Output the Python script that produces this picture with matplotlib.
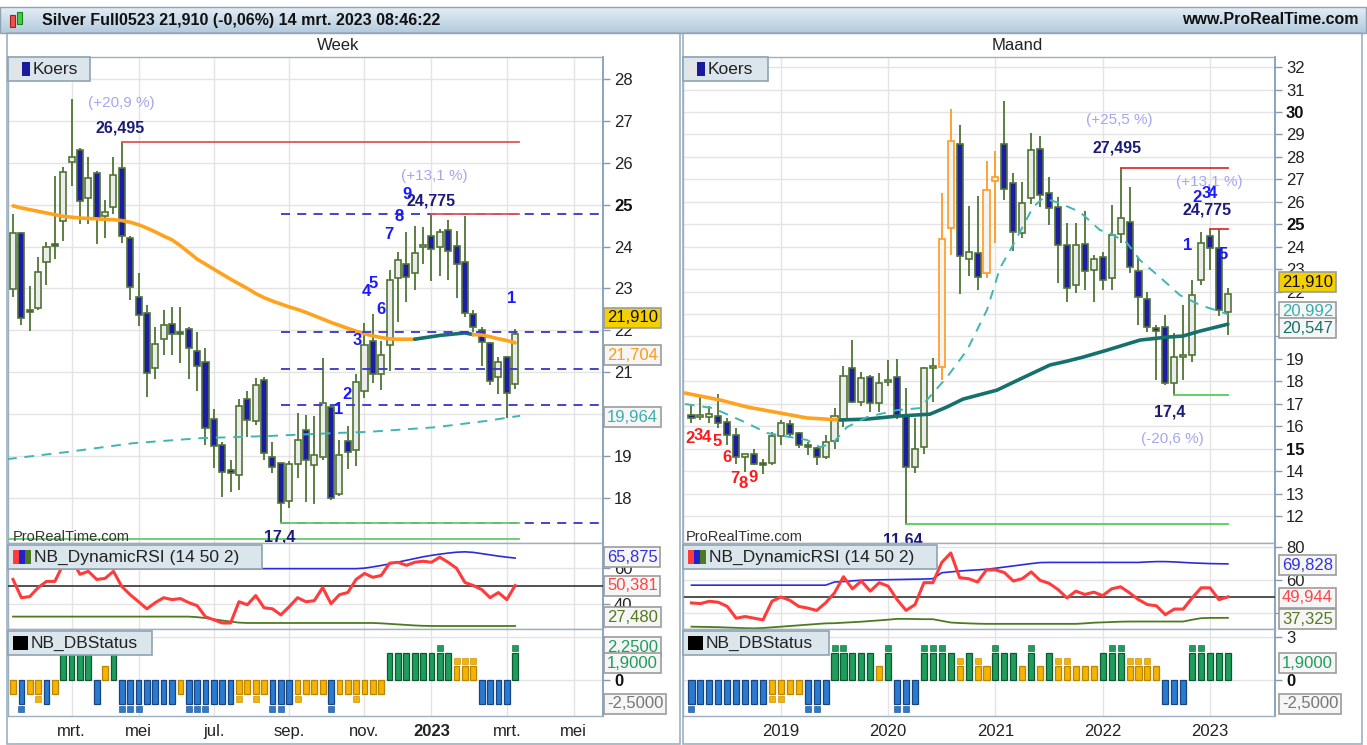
import numpy as np
import pandas as pd
import matplotlib
matplotlib.use("Agg")
import matplotlib.pyplot as plt
from matplotlib.patches import Rectangle
from matplotlib.colors import LinearSegmentedColormap

plt.rcParams['font.family'] = ['Liberation Sans', 'DejaVu Sans']

W, H = 1367, 745

# ======================= DATA =======================
# ---- weekly candles (first week 17 Jan 2022) ----
w_first = "2022-01-17"
w_open = [22.99, 24.32, 22.47, 22.53, 23.63, 24.06, 24.61, 26.02, 26.31, 25.16, 25.76, 24.73, 24.95, 25.88, 24.21, 22.80, 22.42, 21.10, 21.79, 22.15, 21.95, 22.03, 21.51, 21.25, 19.89, 19.26, 18.67, 18.55, 20.36, 19.84, 20.82, 18.98, 18.84, 17.93, 18.81, 19.62, 18.79, 18.98, 20.17, 18.10, 19.36, 19.15, 20.55, 21.75, 20.96, 21.65, 23.25, 23.58, 23.37, 24.00, 24.25, 23.99, 24.40, 24.01, 23.63, 22.39, 22.01, 21.70, 20.89, 21.37, 20.72]
w_high = [24.78, 24.35, 23.06, 23.75, 24.11, 25.68, 25.90, 27.52, 26.35, 26.14, 25.80, 25.11, 26.14, 26.495, 24.25, 23.37, 22.60, 22.08, 22.49, 22.56, 22.56, 22.08, 21.96, 21.58, 20.12, 19.34, 18.91, 20.36, 20.55, 20.86, 20.89, 19.34, 18.84, 18.88, 20.03, 19.98, 19.96, 21.34, 20.20, 19.38, 19.72, 20.96, 22.18, 22.39, 21.75, 23.44, 23.87, 24.35, 24.49, 24.47, 24.775, 24.42, 24.63, 24.37, 24.72, 22.49, 22.08, 21.72, 21.37, 21.39, 22.03]
w_low = [22.80, 22.13, 21.99, 22.49, 23.08, 23.70, 24.13, 25.45, 24.54, 24.54, 24.06, 24.21, 24.78, 24.09, 22.73, 22.10, 20.41, 20.84, 21.41, 21.41, 21.22, 20.84, 20.55, 19.26, 18.72, 18.02, 18.14, 18.19, 19.46, 19.74, 18.91, 18.60, 17.40, 17.76, 18.48, 17.90, 17.86, 18.90, 17.95, 18.05, 18.69, 18.76, 20.39, 20.74, 20.58, 21.03, 22.20, 22.68, 22.96, 23.58, 23.18, 23.30, 23.20, 22.77, 22.32, 21.96, 21.15, 20.70, 20.48, 19.91, 20.60]
w_close = [24.32, 22.30, 22.44, 23.39, 23.99, 24.01, 25.78, 26.14, 25.09, 25.64, 24.66, 24.83, 25.71, 24.25, 23.04, 22.37, 20.98, 21.68, 22.13, 21.91, 21.92, 21.58, 21.15, 19.67, 19.24, 18.62, 18.60, 20.20, 19.86, 20.70, 19.07, 18.74, 17.88, 18.81, 19.38, 18.91, 19.03, 20.27, 18.00, 19.03, 19.10, 20.77, 21.65, 20.96, 21.41, 23.20, 23.68, 23.27, 23.85, 24.03, 23.94, 24.35, 23.89, 23.58, 22.42, 22.08, 21.72, 20.79, 21.25, 20.51, 21.91]
w_ma = [24.97, 24.92, 24.88, 24.84, 24.80, 24.76, 24.72, 24.70, 24.68, 24.67, 24.66, 24.65, 24.64, 24.62, 24.58, 24.52, 24.44, 24.35, 24.25, 24.16, 24.02, 23.86, 23.70, 23.58, 23.46, 23.34, 23.22, 23.11, 23.00, 22.88, 22.78, 22.70, 22.63, 22.56, 22.50, 22.43, 22.35, 22.27, 22.19, 22.12, 22.05, 21.98, 21.92, 21.87, 21.83, 21.80, 21.79, 21.79, 21.79, 21.82, 21.85, 21.88, 21.90, 21.92, 21.94, 21.90, 21.89, 21.85, 21.80, 21.76, 21.704]
w_ma_rise = (48, 55)
w_ma2_idx = [-0.72, 6.45, 14.34, 22.35, 30.36, 38.25, 42.43, 50.44, 56.53, 60.6]
w_ma2 = [18.93, 19.10, 19.31, 19.43, 19.48, 19.55, 19.58, 19.69, 19.84, 19.964]
w_fib = [24.775, 21.958, 21.0875, 20.217, 17.4]
w_rsi = [53.8, 43.5, 44.1, 49.2, 52.7, 52.7, 62.4, 65.2, 56.7, 58.4, 53.8, 54.4, 58.4, 49.8, 45.2, 41.2, 37.2, 40.7, 43.5, 42.4, 43.0, 40.7, 39.0, 32.7, 31.0, 29.2, 29.2, 41.2, 39.5, 44.7, 37.8, 37.2, 33.8, 38.4, 43.5, 41.2, 41.8, 49.2, 40.1, 45.2, 46.4, 53.8, 57.2, 55.0, 56.1, 63.0, 63.5, 61.8, 63.5, 64.1, 63.5, 66.4, 63.5, 60.1, 52.1, 50.4, 48.1, 43.5, 46.4, 42.4, 50.381]
w_rsi_up = [59.9, 59.9, 59.9, 59.9, 59.9, 59.9, 59.9, 59.9, 59.9, 59.9, 59.9, 59.9, 59.9, 59.9, 59.9, 59.9, 59.9, 59.9, 59.9, 59.9, 59.9, 59.9, 59.9, 59.9, 59.9, 59.9, 59.9, 59.9, 59.9, 59.9, 59.9, 59.9, 59.9, 59.9, 59.9, 59.9, 59.9, 59.9, 59.9, 59.9, 59.9, 59.9, 60.2, 60.9, 61.7, 62.6, 63.6, 64.6, 65.6, 66.6, 67.4, 68.1, 68.7, 69.2, 69.4, 69.1, 68.4, 67.7, 67.0, 66.4, 65.875]
w_rsi_lo = [32.8, 32.8, 32.8, 32.8, 32.8, 32.8, 32.8, 32.8, 32.8, 32.8, 32.8, 32.8, 32.8, 32.8, 32.8, 32.8, 32.8, 32.8, 32.8, 32.8, 32.8, 32.8, 32.5, 32.0, 31.3, 30.6, 30.0, 29.4, 29.2, 29.2, 29.2, 29.2, 29.2, 29.2, 29.2, 29.2, 29.2, 29.2, 29.2, 29.2, 29.2, 29.2, 29.2, 29.2, 29.0, 28.7, 28.4, 28.1, 27.8, 27.6, 27.5, 27.5, 27.5, 27.5, 27.5, 27.5, 27.5, 27.5, 27.5, 27.5, 27.48]
w_db = ["Y-", "Bd", "Y-", "Ym-", "B", "Y-", "G", "G", "G", "G", "B", "Y+", "G", "Bd", "Bd", "Bd", "B", "B", "B", "B", "Y-", "Bd", "Bd", "Bd", "B", "B", "B", "Ym-", "Y-", "Ym-", "Y-", "Bd", "Bd", "B", "Ym-", "Y-", "Y-", "Y-", "Bd", "Y-", "Y-", "Ym-", "Y-", "Y-", "Y-", "G", "G", "G", "G", "G", "G", "Gd", "G", "Ym+", "Ym+", "Ym+", "B", "B", "B", "B", "Gd"]

# ---- monthly candles (first month March 2018) ----
m_first = "2018-03-01"
m_open = [16.50, 16.40, 16.42, 16.47, 16.20, 15.61, 14.64, 14.76, 14.30, 14.36, 15.56, 16.10, 15.68, 15.16, 15.01, 14.61, 15.35, 16.31, 18.58, 17.09, 18.18, 17.04, 17.96, 18.18, 16.50, 14.17, 15.09, 18.58, 18.65, 24.82, 28.56, 23.44, 23.73, 22.81, 26.94, 28.57, 26.85, 24.62, 26.15, 28.33, 26.37, 25.78, 24.07, 22.29, 24.12, 22.96, 23.52, 22.59, 24.56, 25.11, 22.93, 21.65, 20.36, 20.43, 17.91, 19.07, 19.17, 22.51, 24.47, 23.92, 21.10]
m_high = [16.94, 17.39, 16.90, 17.43, 16.37, 15.92, 14.76, 15.00, 14.53, 15.76, 16.28, 16.28, 15.75, 15.31, 15.09, 15.61, 16.80, 18.68, 19.84, 18.43, 18.28, 18.36, 18.95, 18.98, 17.69, 16.35, 18.65, 19.02, 26.40, 30.12, 29.42, 25.82, 26.27, 27.81, 28.26, 30.50, 27.29, 26.89, 29.07, 28.93, 27.11, 26.22, 25.06, 25.04, 25.60, 23.63, 23.77, 25.85, 27.495, 26.67, 23.48, 22.00, 20.50, 20.96, 20.14, 21.40, 22.51, 24.66, 24.775, 24.775, 22.14]
m_low = [16.13, 16.28, 16.16, 15.92, 15.16, 14.32, 13.97, 14.27, 13.87, 14.27, 15.16, 15.51, 15.01, 14.72, 14.27, 14.53, 14.97, 15.98, 17.02, 16.90, 16.65, 16.65, 17.79, 16.31, 11.64, 13.93, 14.76, 17.09, 18.06, 23.63, 21.88, 22.69, 22.07, 22.60, 24.15, 26.08, 23.82, 24.37, 25.90, 25.75, 24.96, 22.39, 21.55, 21.92, 22.07, 21.55, 22.07, 22.07, 24.15, 22.81, 20.51, 20.21, 18.06, 17.83, 17.40, 18.06, 18.87, 22.29, 22.96, 20.90, 20.06]
m_close = [16.35, 16.50, 16.54, 16.13, 15.61, 14.61, 14.76, 14.32, 14.27, 15.56, 16.13, 15.65, 15.16, 15.09, 14.61, 15.31, 16.45, 18.24, 17.09, 18.13, 17.02, 17.94, 18.06, 16.45, 14.17, 14.99, 18.58, 18.70, 24.33, 28.72, 23.58, 23.78, 22.66, 26.52, 27.09, 26.55, 24.66, 25.96, 28.30, 26.30, 25.71, 24.07, 22.14, 24.07, 22.93, 23.45, 22.51, 24.52, 25.26, 23.10, 21.77, 20.43, 20.25, 17.94, 19.10, 19.17, 21.84, 24.17, 23.95, 21.18, 21.91]
m_highlight = [28, 29, 33, 34]
m_ma_idx = [-0.73, 3.19, 6.21, 9.90, 12.92, 16.61, 19.63, 22.99, 26.68, 28.58, 30.37, 34.17, 36.74, 40.10, 42.00, 43.79, 46.48, 50.17, 53.19, 54.98, 56.88, 60.0]
m_ma = [17.48, 17.17, 16.86, 16.59, 16.37, 16.28, 16.32, 16.45, 16.54, 16.86, 17.21, 17.61, 18.10, 18.73, 18.90, 19.08, 19.39, 19.84, 19.97, 20.02, 20.24, 20.547]
m_ma_turn = 5
m_ma2_idx = [-0.73, 2.40, 6.21, 8.45, 11.02, 12.92, 14.37, 15.83, 17.39, 19.63, 22.99, 25.56, 27.01, 28.58, 30.82, 33.05, 34.51, 35.96, 38.20, 39.32, 41.22, 43.46, 45.69, 46.81, 48.72, 50.17, 52.40, 54.64, 56.88, 60.0]
m_ma2 = [16.99, 16.81, 16.14, 15.70, 15.52, 15.39, 15.07, 15.25, 15.96, 16.41, 16.72, 16.81, 17.48, 18.19, 19.39, 21.18, 23.05, 24.07, 25.76, 26.16, 25.94, 25.54, 24.74, 24.61, 24.16, 23.40, 22.64, 21.84, 21.40, 20.992]
m_rsi = [46.3, 45.9, 47.3, 46.7, 44.2, 37.1, 38.1, 37.1, 36.1, 47.3, 49.9, 47.9, 44.2, 43.2, 41.8, 46.3, 52.4, 62.1, 54.8, 59.5, 53.4, 58.5, 56.4, 48.3, 41.8, 45.3, 58.5, 58.5, 70.7, 76.4, 61.5, 60.9, 58.9, 66.2, 66.2, 64.6, 59.5, 60.9, 65.0, 59.9, 58.1, 54.4, 49.3, 53.4, 51.4, 52.8, 50.7, 54.8, 56.0, 52.4, 48.3, 45.3, 44.6, 39.2, 42.6, 42.6, 49.3, 55.4, 55.4, 48.3, 49.944]
m_rsi_up = [57.0, 57.0, 57.0, 57.0, 57.0, 57.0, 57.0, 57.0, 57.0, 57.0, 57.0, 57.0, 57.0, 57.0, 57.0, 57.0, 58.9, 59.2, 59.6, 60.0, 60.1, 60.2, 60.3, 60.4, 60.5, 60.6, 60.7, 60.9, 64.5, 65.0, 65.5, 65.9, 66.2, 66.6, 67.2, 67.9, 68.6, 69.3, 70.0, 70.6, 70.7, 70.7, 70.7, 70.7, 70.7, 70.7, 70.7, 70.7, 70.7, 70.7, 70.7, 71.0, 71.2, 71.2, 71.0, 70.7, 70.4, 70.2, 70.0, 69.9, 69.828]
m_rsi_lo = [32.0, 31.9, 31.8, 31.7, 31.5, 31.3, 31.1, 31.0, 31.2, 31.6, 32.0, 32.4, 32.8, 33.2, 33.6, 34.0, 34.1, 34.4, 34.7, 35.0, 35.4, 35.8, 36.2, 36.7, 36.7, 36.6, 36.5, 36.5, 35.5, 34.5, 34.2, 34.0, 33.8, 33.7, 33.7, 33.7, 33.7, 33.7, 33.7, 33.7, 33.7, 33.7, 33.7, 33.7, 34.0, 34.4, 34.6, 34.8, 35.0, 35.1, 35.1, 35.1, 35.1, 35.1, 35.1, 35.1, 36.2, 37.1, 37.3, 37.3, 37.325]
m_db = ["Bd", "B", "B", "B", "B", "B", "B", "B", "B", "Ym-", "Ym-", "Y-", "Y-", "Bd", "Bd", "B", "Gd", "Gd", "G", "G", "G", "Y+", "Gd", "Bd", "Bd", "B", "Gd", "Gd", "Gd", "G", "Ym+", "G", "Ym+", "Y+", "Gd", "G", "G", "Y+", "Gd", "Y+", "G", "Ym+", "Ym+", "Y+", "Y+", "Y+", "G", "Gd", "Gd", "Ym+", "Ym+", "Ym+", "Y+", "B", "B", "B", "Gd", "Gd", "G", "G", "G"]

db_bar = {"G": 1.9, "B": -1.7, "Y+": 1.0, "Y-": -1.0}
db_mark = {"G": 2.25, "B": -2.05, "Y+": 1.3, "Y-": -1.3}

nl_months = {3: "mrt.", 5: "mei", 7: "jul.", 9: "sep.", 11: "nov."}

# ======================= STYLE =======================
FS = 12
FRAME = "#9db0c0"
AXC = "#7f9db9"
GRID = "#e4e4e4"
WICK = "#4f7434"
UPF = "#ececec"
DNF = "#1c1ca6"
ORC = "#ff9a22"
NAVY = "#1b1b7a"
LAV = "#a6a6f0"
BLUEN = "#1a1aff"

fig = plt.figure(figsize=(W / 100, H / 100), dpi=100)
fig.patch.set_facecolor("white")


def pax(x0, y0, x1, y1, **kw):
    return fig.add_axes([x0 / W, 1 - y1 / H, (x1 - x0) / W, (y1 - y0) / H], **kw)


def frect(x0, y0, x1, y1, **kw):
    r = Rectangle((x0 / W, 1 - y1 / H), (x1 - x0) / W, (y1 - y0) / H,
                  transform=fig.transFigure, **kw)
    fig.add_artist(r)
    return r


def ftext(x, y, s, **kw):
    return fig.text(x / W, 1 - y / H, s, **kw)


def style(ax, xlim, ylim, xticks, yticks, hidden=()):
    ax.set_xlim(*xlim)
    ax.set_ylim(*ylim)
    for s in ["left", "top", "bottom"]:
        ax.spines[s].set_color(FRAME)
        ax.spines[s].set_linewidth(1.0)
    ax.spines["right"].set_color(AXC)
    ax.spines["right"].set_linewidth(1.3)
    ax.yaxis.tick_right()
    ax.set_xticks(xticks)
    ax.set_yticks(list(yticks))
    ax.set_yticklabels(["" if v in hidden else str(v) for v in yticks])
    ax.tick_params(axis="x", length=0, labelbottom=False)
    ax.tick_params(axis="y", direction="out", length=5, width=1, color=AXC,
                   labelsize=FS, labelcolor="#222222", pad=3)
    ax.grid(True, color=GRID, lw=1.0)
    ax.set_axisbelow(True)


def bold_ticks(ax, vals):
    for t, v in zip(ax.get_yticklabels(), ax.get_yticks()):
        if v in vals:
            t.set_fontweight("bold")
            t.set_color("#111111")


def candles(ax, o, h, l, c, width, mind, hl=()):
    for i in range(len(o)):
        edge = ORC if i in hl else WICK
        up = c[i] >= o[i]
        ax.vlines(i, l[i], h[i], color=edge, lw=1.3, zorder=3)
        lo, hi = min(o[i], c[i]), max(o[i], c[i])
        ax.add_patch(Rectangle((i - width / 2, lo), width, max(hi - lo, mind),
                               fc=("#f4f4f4" if i in hl else UPF) if up else DNF,
                               ec=edge, lw=1.2, zorder=4))


def dbstatus(ax, codes):
    cols = {"G": ("#1f9d5c", "#0c5a32"), "B": ("#2a7ad2", "#16457f"), "Y": ("#f6b400", "#b98600")}
    for i, cd in enumerate(codes):
        key = cd[0]
        k2 = key if key in ("G", "B") else ("Y" + cd[-1])
        v = db_bar[k2]
        fc, ec = cols[key]
        ax.bar(i, v, width=0.68, color=fc, edgecolor=ec, lw=0.9, zorder=3)
        if "d" in cd or "m" in cd:
            ax.scatter([i], [db_mark[k2]], marker="s", s=14, color=fc, edgecolors=ec,
                       linewidths=0.4, zorder=4)


def vbox(x, y, s, color, fc="#f6f6f6"):
    ftext(x, y, s, color=color, fontsize=FS, ha="left", va="center", zorder=20,
          bbox=dict(boxstyle="square,pad=0.16", fc=fc, ec="#9c9c9c", lw=1.2))


def legend(x0, y0, x1, y1, label, icons):
    frect(x0, y0, x1, y1, fc="#dbe5ec", ec="#8ea3b3", lw=1.2, zorder=12)
    for (a, b, c) in icons:
        frect(a, y0 + 5, b, y1 - 5, fc=c, ec="none", zorder=13)
    ftext(icons[-1][1] + 3, (y0 + y1) / 2 + 0.5, label, fontsize=FS + 0.5, color="#222222",
          ha="left", va="center", zorder=14)


# ======================= HEADER =======================
hax = pax(0, 7, W, 33)
grad = np.linspace(0, 1, 50).reshape(-1, 1)
cm = LinearSegmentedColormap.from_list("hdr", ["#e4eef6", "#b2cadc"])
hax.imshow(grad, aspect="auto", cmap=cm, extent=[0, 1, 0, 1], origin="upper")
hax.set_axis_off()
frect(0, 7, W - 1, 33, fc="none", ec="#8ea3b3", lw=1, zorder=5)
frect(10, 15, 15, 27, fc="#f05050", ec="#a02020", lw=0.8, zorder=6)
frect(17, 12, 22, 24, fc="#40d040", ec="#208020", lw=0.8, zorder=6)
ftext(42, 20, "Silver Full0523 21,910 (-0,06%) 14 mrt. 2023 08:46:22", fontsize=11.5,
      fontweight="bold", color="#111111", ha="left", va="center")
ftext(1359, 20, "www.ProRealTime.com", fontsize=11.5, fontweight="bold", color="#111111",
      ha="right", va="center")
ftext(338, 45, "Week", fontsize=FS, color="#222222", ha="center", va="center")
ftext(1017, 45, "Maand", fontsize=FS, color="#222222", ha="center", va="center")
frect(7, 33, 680, 744, fc="none", ec=FRAME, lw=1.2, zorder=1)
frect(683, 33, 1362, 744, fc="none", ec=FRAME, lw=1.2, zorder=1)

# ======================= WEEKLY =======================
w_dates = pd.date_range(w_first, periods=len(w_open) + 11, freq="7D")
w_tpos, w_tlab = [], []
for i, d in enumerate(w_dates):
    if d.day <= 7 and d.month % 2 == 1:
        w_tpos.append(i)
        w_tlab.append(str(d.year) if d.month == 1 else nl_months[d.month])
wx = (-0.6, 70.5)
nw = len(w_open)

ax1 = pax(8, 57, 603, 543)
style(ax1, wx, (16.93, 28.52), w_tpos, range(18, 29), hidden=(20,))
bold_ticks(ax1, [25])
candles(ax1, w_open, w_high, w_low, w_close, 0.72, 0.04)
xi = np.arange(nw)
a, b = w_ma_rise
ax1.plot(xi[:a + 1], w_ma[:a + 1], color="#ffa31f", lw=2.6, zorder=5, solid_capstyle="round")
ax1.plot(xi[a:b + 1], w_ma[a:b + 1], color="#15716d", lw=2.6, zorder=5, solid_capstyle="round")
ax1.plot(xi[b:], w_ma[b:], color="#ffa31f", lw=2.6, zorder=5, solid_capstyle="round")
ax1.plot(w_ma2_idx, w_ma2, color="#3fb6b6", lw=1.4, ls=(0, (5, 4)), zorder=5)
low_i = int(np.argmin(w_low))
hi_i = int(np.argmax(w_high[10:])) + 10
top2 = int(np.argmax(w_high[40:])) + 40
for lv in w_fib:
    ax1.plot([low_i, wx[1]], [lv, lv], color="#3535c8", lw=1.3, ls=(0, (5, 4)), zorder=5)
end_w = nw - 0.5
ax1.plot([hi_i, end_w], [w_high[hi_i]] * 2, color="#e05555", lw=1.3, zorder=6)
ax1.plot([top2, end_w], [w_high[top2]] * 2, color="#e05555", lw=1.3, zorder=6)
ax1.plot([low_i, end_w], [w_low[low_i]] * 2, color="#66cc66", lw=1.3, zorder=6)
ax1.plot([wx[0], end_w], [17.02, 17.02], color="#66cc66", lw=1.3, zorder=6)
tk = dict(ha="center", va="center", zorder=7, clip_on=True)
ax1.text(13.0, 27.43, "(+20,9 %)", fontsize=11, color=LAV, **tk)
ax1.text(12.8, 26.83, "26,495", fontsize=11.5, color=NAVY, fontweight="bold", **tk)
ax1.text(50.3, 25.68, "(+13,1 %)", fontsize=11, color=LAV, **tk)
ax1.text(49.9, 25.09, "24,775", fontsize=11.5, color=NAVY, fontweight="bold", **tk)
ax1.text(31.9, 17.07, "17,4", fontsize=11.5, color=NAVY, fontweight="bold", **tk)
for s, xx, yy in [("9", 47.1, 25.23), ("8", 46.1, 24.71), ("7", 44.9, 24.28), ("5", 43.0, 23.13),
                  ("4", 42.2, 22.92), ("6", 44.0, 22.49), ("3", 41.1, 21.75), ("2", 39.9, 20.46),
                  ("1", 38.9, 20.12), ("1", 59.6, 22.75)]:
    ax1.text(xx, yy, s, fontsize=12, color=BLUEN, fontweight="bold", **tk)
ax1.text(0.0, 17.07, "ProRealTime.com", fontsize=10.5, color="#333333", ha="left",
         va="center", zorder=7, clip_on=True)

ax2 = pax(8, 543, 603, 629)
style(ax2, wx, (25.8, 74.4), w_tpos, [40, 60])
ax2.axhline(50, color="#333333", lw=1.2, zorder=3)
ax2.plot(xi, w_rsi_lo, color="#4d7a1f", lw=1.3, zorder=4)
ax2.plot(xi, w_rsi_up, color="#2b2bdd", lw=1.2, zorder=4)
ax2.plot(xi, w_rsi, color="#ff3b3b", lw=2.2, zorder=5)

ax3 = pax(8, 629, 603, 716)
style(ax3, wx, (-2.52, 3.57), w_tpos, [0, 3], hidden=(3,))
dbstatus(ax3, w_db)
ax3.tick_params(axis="x", labelbottom=True, labelsize=FS, labelcolor="#222222", pad=6)
ax3.set_xticklabels(w_tlab)
for t, lab in zip(ax3.get_xticklabels(), w_tlab):
    if lab.isdigit():
        t.set_fontweight("bold")
bold_ticks(ax3, [0])

legend(8, 57, 90, 81, "Koers", [(13, 22, "#e4e4e4"), (22, 30, "#1a1a9e")])
legend(8, 545, 262, 569, "NB_DynamicRSI (14 50 2)",
       [(13, 19, "#ff3b3b"), (19, 25, "#2222cc"), (25, 31, "#4d7a1f")])
legend(8, 631, 152, 655, "NB_DBStatus", [(13, 28, "#000000")])

vbox(607, 318, "21,910", "#111111", fc="#f5d000")
vbox(607, 355, "21,704", "#ff9a1a")
vbox(607, 417, "19,964", "#3aaeae")
vbox(607, 557, "65,875", "#3333dd")
vbox(607, 586, "50,381", "#ff4444")
vbox(607, 617, "27,480", "#557a20")
vbox(607, 647, "2,2500", "#1f9d5c")
vbox(607, 663, "1,9000", "#1f9d5c")
vbox(607, 704, "-2,5000", "#777777")

# ======================= MONTHLY =======================
m_dates = pd.date_range(m_first, periods=len(m_open) + 6, freq="MS")
m_tpos = [i for i, d in enumerate(m_dates) if d.month == 1]
m_tlab = [str(m_dates[i].year) for i in m_tpos]
mx = (-0.95, 65.27)
nm = len(m_open)
mi = np.arange(nm)

bx1 = pax(683, 57, 1275, 543)
style(bx1, mx, (10.80, 32.45), m_tpos, range(12, 33), hidden=(20, 21))
bold_ticks(bx1, [15, 25, 30])
candles(bx1, m_open, m_high, m_low, m_close, 0.68, 0.08, hl=m_highlight)
k = m_ma_turn
bx1.plot(m_ma_idx[:k + 1], m_ma[:k + 1], color="#ffa31f", lw=2.6, zorder=5, solid_capstyle="round")
bx1.plot(m_ma_idx[k:], m_ma[k:], color="#15716d", lw=2.6, zorder=5, solid_capstyle="round")
bx1.plot(m_ma2_idx, m_ma2, color="#3fb6b6", lw=1.4, ls=(0, (5, 4)), zorder=5)
mh = int(np.argmax(m_high[40:])) + 40
ml = int(np.argmin(m_low))
ml2 = int(np.argmin(m_low[50:])) + 50
bx1.plot([mh, nm - 1], [m_high[mh]] * 2, color="#e03030", lw=1.3, zorder=6)
bx1.plot([58, nm - 1], [m_high[58]] * 2, color="#e03030", lw=1.3, zorder=6)
bx1.plot([ml2, nm - 1], [m_low[ml2]] * 2, color="#55cc55", lw=1.3, zorder=6)
bx1.plot([ml, nm - 1], [m_low[ml]] * 2, color="#55cc55", lw=1.3, zorder=6)
bx1.text(47.9, 29.64, "(+25,5 %)", fontsize=11, color=LAV, **tk)
bx1.text(47.6, 28.39, "27,495", fontsize=11.5, color=NAVY, fontweight="bold", **tk)
bx1.text(57.9, 26.88, "(+13,1 %)", fontsize=11, color=LAV, **tk)
bx1.text(57.7, 25.63, "24,775", fontsize=11.5, color=NAVY, fontweight="bold", **tk)
bx1.text(53.5, 16.63, "17,4", fontsize=11.5, color=NAVY, fontweight="bold", **tk)
bx1.text(53.8, 15.43, "(-20,6 %)", fontsize=11, color=LAV, **tk)
bx1.text(23.6, 10.95, "11,64", fontsize=11.5, color=NAVY, fontweight="bold", **tk)
for s, xx, yy in [("2", 56.5, 26.21), ("3", 57.6, 26.39), ("4", 58.3, 26.39), ("1", 55.5, 24.07),
                  ("5", 59.5, 23.63)]:
    bx1.text(xx, yy, s, fontsize=12, color=BLUEN, fontweight="bold", **tk)
for s, xx, yy in [("2", -0.2, 15.47), ("3", 0.7, 15.61), ("4", 1.7, 15.52), ("5", 2.9, 15.30),
                  ("6", 4.0, 14.63), ("7", 4.9, 13.69), ("8", 5.8, 13.43), ("9", 6.9, 13.74)]:
    bx1.text(xx, yy, s, fontsize=12, color="#ff1a1a", fontweight="bold", **tk)
bx1.text(-0.6, 11.05, "ProRealTime.com", fontsize=10.5, color="#333333", ha="left",
         va="center", zorder=7, clip_on=True)

bx2 = pax(683, 543, 1275, 629)
style(bx2, mx, (30.6, 82.4), m_tpos, [40, 60, 80], hidden=(40,))
bx2.axhline(50, color="#333333", lw=1.2, zorder=3)
bx2.plot(mi, m_rsi_lo, color="#4d7a1f", lw=1.3, zorder=4)
bx2.plot(mi, m_rsi_up, color="#2b2bdd", lw=1.2, zorder=4)
bx2.plot(mi, m_rsi, color="#ff3b3b", lw=2.2, zorder=5)

bx3 = pax(683, 629, 1275, 716)
style(bx3, mx, (-2.52, 3.57), m_tpos, [0, 3])
dbstatus(bx3, m_db)
bx3.tick_params(axis="x", labelbottom=True, labelsize=FS, labelcolor="#222222", pad=6)
bx3.set_xticklabels(m_tlab)
bold_ticks(bx3, [0])

legend(683, 57, 768, 81, "Koers", [(688, 697, "#e4e4e4"), (697, 705, "#1a1a9e")])
legend(683, 545, 937, 569, "NB_DynamicRSI (14 50 2)",
       [(688, 694, "#ff3b3b"), (694, 700, "#2222cc"), (700, 706, "#4d7a1f")])
legend(683, 631, 829, 655, "NB_DBStatus", [(688, 703, "#000000")])

vbox(1282, 282, "21,910", "#111111", fc="#f5d000")
vbox(1282, 312, "20,992", "#3aaeae")
vbox(1282, 328, "20,547", "#15716d")
vbox(1282, 565, "69,828", "#3333dd")
vbox(1282, 598, "49,944", "#ff4444")
vbox(1282, 619, "37,325", "#557a20")
vbox(1282, 663, "1,9000", "#1f9d5c")
vbox(1282, 704, "-2,5000", "#777777")

fig.savefig("out.png", dpi=100)
